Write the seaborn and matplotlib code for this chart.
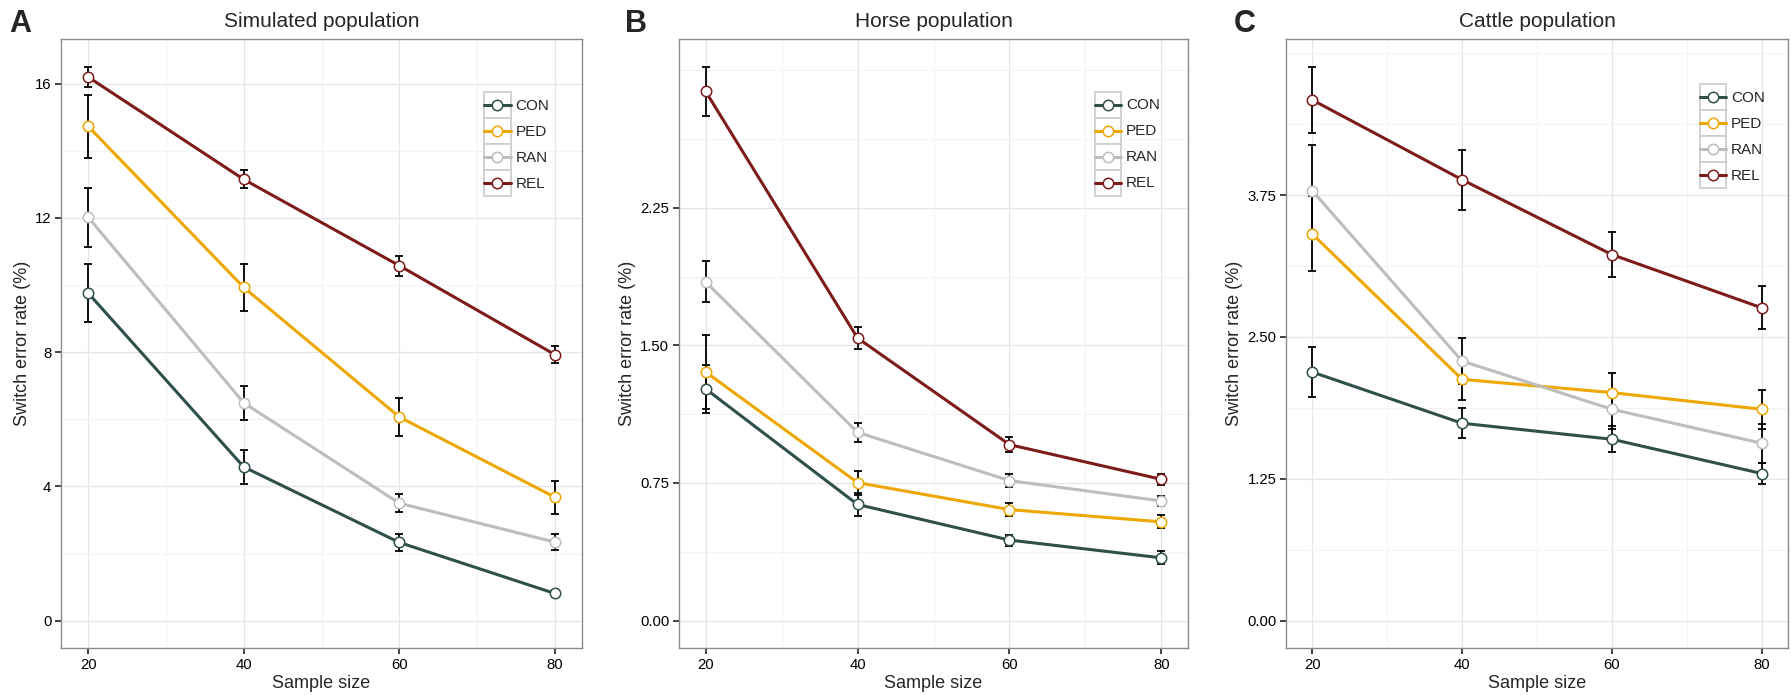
import matplotlib
matplotlib.use("Agg")
import matplotlib.pyplot as plt
from matplotlib.lines import Line2D
from matplotlib.patches import Rectangle
from matplotlib.legend_handler import HandlerLine2D
from matplotlib.ticker import MultipleLocator, FixedLocator, FormatStrFormatter
import seaborn as sns
import numpy as np
import pandas as pd

sns.set_style("white")
plt.rcParams['font.family'] = ['Liberation Sans', 'DejaVu Sans']

methods = ["CON", "PED", "RAN", "REL"]
sizes = [20, 40, 60, 80]
colors = ["#2f4f4b", "#eea600", "#bdbdbd", "#7d1a1a"]
titles = ["Simulated population", "Horse population", "Cattle population"]
letters = ["A", "B", "C"]

# rows: CON, PED, RAN, REL ; cols: sample size 20, 40, 60, 80
sim_mean = [[9.76, 4.58, 2.33, 0.81],
            [14.73, 9.93, 6.07, 3.68],
            [12.02, 6.49, 3.50, 2.34],
            [16.20, 13.15, 10.58, 7.93]]
sim_err = [[0.86, 0.50, 0.25, 0.10],
           [0.93, 0.70, 0.57, 0.49],
           [0.88, 0.50, 0.27, 0.23],
           [0.30, 0.27, 0.30, 0.25]]

horse_mean = [[1.263, 0.633, 0.439, 0.342],
              [1.355, 0.752, 0.605, 0.538],
              [1.846, 1.026, 0.763, 0.652],
              [2.884, 1.540, 0.959, 0.770]]
horse_err = [[0.130, 0.062, 0.030, 0.035],
             [0.200, 0.065, 0.035, 0.035],
             [0.112, 0.050, 0.035, 0.027],
             [0.133, 0.060, 0.040, 0.030]]

cattle_mean = [[2.190, 1.739, 1.598, 1.296],
               [3.407, 2.126, 2.009, 1.862],
               [3.788, 2.287, 1.862, 1.563],
               [4.588, 3.885, 3.225, 2.756]]
cattle_err = [[0.224, 0.130, 0.115, 0.090],
              [0.330, 0.180, 0.170, 0.170],
              [0.400, 0.200, 0.170, 0.170],
              [0.290, 0.264, 0.200, 0.190]]

ystep = [4, 0.75, 1.25]
yfmt = ["%d", "%.2f", "%.2f"]


def make_df(mean, err):
    rows = []
    for m, mv, ev in zip(methods, mean, err):
        for n, a, e in zip(sizes, mv, ev):
            rows.append({"n": n, "method": m, "mean": a, "err": e})
    return pd.DataFrame(rows)


class BoxedKey(HandlerLine2D):
    # ggplot-like legend key: grey framed square with the line+point centred in it
    def create_artists(self, legend, orig_handle, xdescent, ydescent,
                       width, height, fontsize, trans):
        box = Rectangle((-xdescent, -ydescent), width, height,
                        facecolor="white", edgecolor="#cfcfcf", lw=1.3,
                        transform=trans)
        arts = super().create_artists(legend, orig_handle, xdescent, ydescent,
                                      width, height, fontsize, trans)
        for a in arts:
            xd = a.get_xdata()
            a.set_ydata(np.full(len(xd), height / 2 - ydescent))
        return [box] + arts


W, H = 1791, 695
fig = plt.figure(figsize=(W / 100, H / 100), dpi=100)

# axes boxes in pixels: left, right
boxes = [(61, 582), (679, 1188), (1286, 1788)]
top_px, bot_px = 39.3, 648.3
leg_pos = [(0.812, 0.913), (0.8165, 0.914), (0.824, 0.926)]
letter_x = [9, 625, 1234]

datasets = [(sim_mean, sim_err), (horse_mean, horse_err), (cattle_mean, cattle_err)]

for i, (mean, err) in enumerate(datasets):
    l, r = boxes[i]
    ax = fig.add_axes([l / W, 1 - bot_px / H, (r - l) / W, (bot_px - top_px) / H])
    df = make_df(mean, err)

    for m, c in zip(methods, colors):
        d = df[df.method == m]
        ax.errorbar(d["n"], d["mean"], yerr=d["err"], fmt="none", ecolor="black",
                    elinewidth=1.3, capsize=2.6, capthick=1.3, zorder=1.5)
        sns.lineplot(data=d, x="n", y="mean", color=c, marker="o", markersize=7.5,
                     markerfacecolor="white", markeredgecolor=c, markeredgewidth=1.1,
                     linewidth=2.2, ax=ax, zorder=2)

    ymax = (df["mean"] + df["err"]).max()
    ylo, yhi = -0.05 * ymax, 1.05 * ymax
    ax.set_ylim(ylo, yhi)
    ax.set_xlim(16.5, 83.5)
    ax.xaxis.set_major_locator(MultipleLocator(20))
    ax.xaxis.set_minor_locator(MultipleLocator(10))
    # labelled breaks stop at the largest mean; finer grid continues to the top
    ax.yaxis.set_major_locator(FixedLocator(np.arange(0, df["mean"].max(), ystep[i])))
    ax.yaxis.set_minor_locator(MultipleLocator(ystep[i] / 2))
    ax.yaxis.set_major_formatter(FormatStrFormatter(yfmt[i]))

    ax.grid(True, which="major", color="#e6e6e6", lw=0.9)
    ax.grid(True, which="minor", color="#f3f3f3", lw=0.8)
    ax.set_axisbelow(True)
    for s in ax.spines.values():
        s.set_color("#8c8c8c")
        s.set_linewidth(1.0)
    ax.tick_params(which="major", direction="out", length=4, width=1.2,
                   color="#222222", labelsize=10.7, labelcolor="black",
                   left=True, bottom=True, pad=3)
    ax.tick_params(which="minor", length=0)

    ax.set_xlabel("Sample size", fontsize=13, labelpad=2)
    ax.set_ylabel("Switch error rate (%)", fontsize=13, labelpad=3)
    ax.set_title(titles[i], fontsize=15, pad=9)

    handles = [Line2D([], [], color=c, lw=2.2, marker="o", markersize=7.5,
                      markerfacecolor="white", markeredgewidth=1.1) for c in colors]
    ax.legend(handles, methods, loc="upper left", bbox_to_anchor=leg_pos[i],
              frameon=False, borderpad=0, borderaxespad=0, labelspacing=0,
              handlelength=1.75, handleheight=2.24, handletextpad=0.3,
              fontsize=11, handler_map={Line2D: BoxedKey()})

    fig.text(letter_x[i] / W, 1 - 31.7 / H, letters[i], fontsize=22,
             fontweight="bold", va="baseline", ha="left")

fig.savefig("out.png", dpi=100)
